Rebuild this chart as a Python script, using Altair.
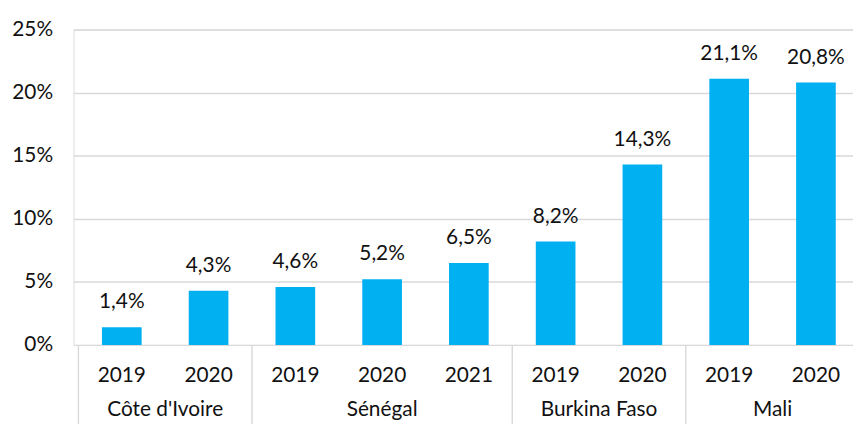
import altair as alt
import pandas as pd

countries = ["Côte d'Ivoire", "Côte d'Ivoire", "Sénégal", "Sénégal", "Sénégal",
             "Burkina Faso", "Burkina Faso", "Mali", "Mali"]
years = ["2019", "2020", "2019", "2020", "2021", "2019", "2020", "2019", "2020"]
values = [1.4, 4.3, 4.6, 5.2, 6.5, 8.2, 14.3, 21.1, 20.8]

df = pd.DataFrame({"country": countries, "year": years, "value": values,
                   "idx": list(range(len(values)))})
df["label"] = [f"{v:.1f}".replace(".", ",") + "%" for v in values]

grp = df.groupby("country", sort=False)["idx"].agg(["min", "max"]).reset_index()
grp["mid"] = (grp["min"] + grp["max"]) / 2
grp["left"] = grp["min"] - 0.5

FONT = "Lato"
FS = 21
TXT = "#111111"
GRID = "#d9d9d9"
H = 318
xscale = alt.Scale(domain=[-0.5, 8.37], nice=False, zero=False)
yscale = alt.Scale(domain=[0, 25], nice=False)

base = alt.Chart(df)

bars = base.mark_bar(size=40, color="#00B0F0").encode(
    x=alt.X("idx:Q", scale=xscale, axis=None),
    y=alt.Y("value:Q", scale=yscale,
            axis=alt.Axis(values=[0, 5, 10, 15, 20, 25], grid=True, gridColor=GRID,
                          gridWidth=1.4, domain=False, ticks=False,
                          labelExpr="datum.value + '%'", labelFontSize=FS,
                          labelFont=FONT, labelColor=TXT, labelPadding=21, title=None)),
)

labels = base.mark_text(font=FONT, fontSize=FS, color=TXT, baseline="alphabetic", dy=-19).encode(
    x=alt.X("idx:Q", scale=xscale, axis=None),
    y=alt.Y("value:Q", scale=yscale),
    text="label:N",
)

year_text = base.mark_text(font=FONT, fontSize=FS, color=TXT, baseline="middle").encode(
    x=alt.X("idx:Q", scale=xscale, axis=None),
    y=alt.value(349),
    text="year:N",
)

gbase = alt.Chart(grp)
seps = gbase.mark_rule(color=GRID, strokeWidth=1.4).encode(
    x=alt.X("left:Q", scale=xscale, axis=None),
    y=alt.value(H),
    y2=alt.value(H + 110),
)
country_text = gbase.mark_text(font=FONT, fontSize=FS, color=TXT, baseline="middle").encode(
    x=alt.X("mid:Q", scale=xscale, axis=None),
    y=alt.value(384),
    text="country:N",
)

chart = alt.layer(bars, labels, year_text, seps, country_text).properties(
    width=786, height=H,
    autosize=alt.AutoSizeParams(type="none"),
    padding={"left": 66, "top": 20, "right": 0, "bottom": 78},
).configure_view(stroke=None).configure(background="white")

chart.save("out.html", embed_options={"renderer": "svg", "actions": False})
